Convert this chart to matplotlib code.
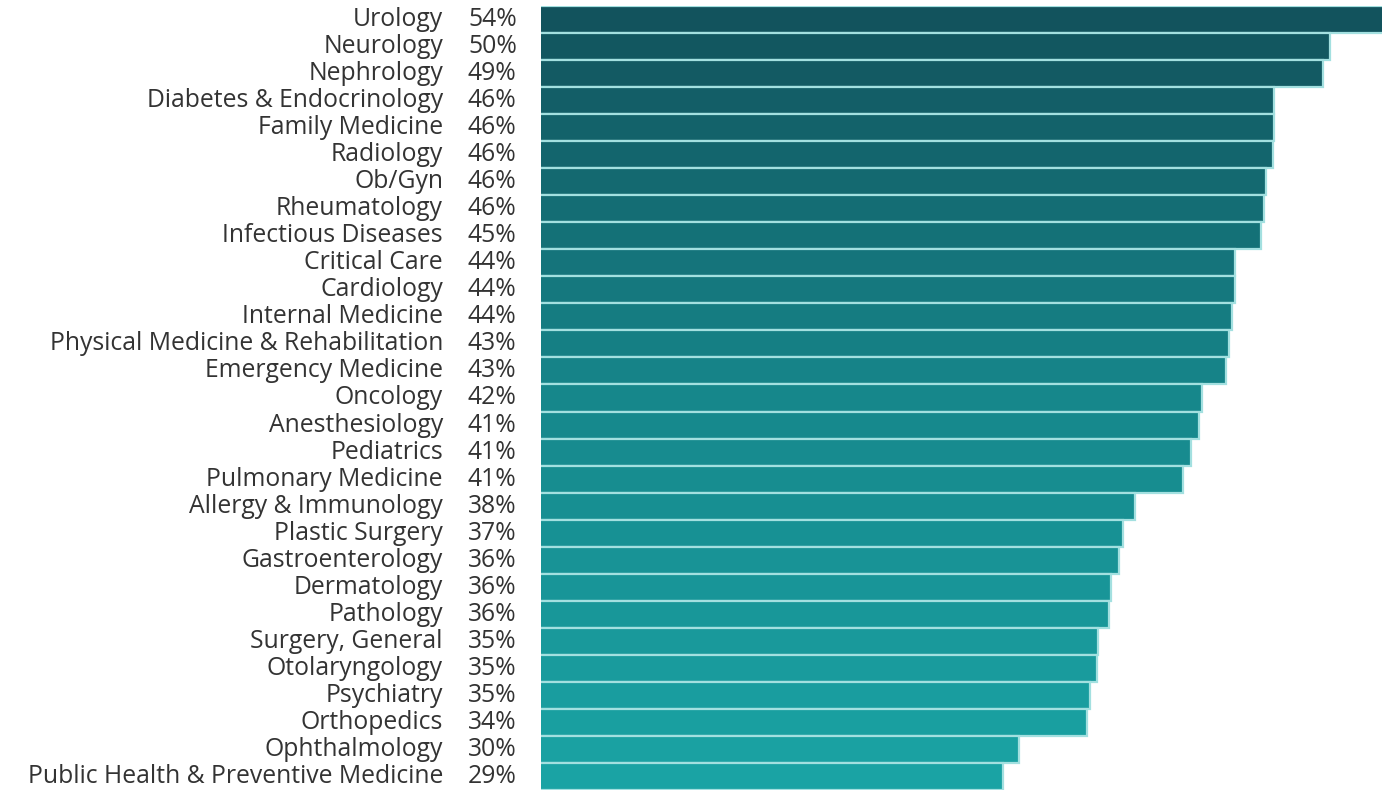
import matplotlib
matplotlib.use("Agg")
import matplotlib.pyplot as plt
import numpy as np
from matplotlib.colors import LinearSegmentedColormap

categories = ["Urology", "Neurology", "Nephrology", "Diabetes & Endocrinology",
              "Family Medicine", "Radiology", "Ob/Gyn", "Rheumatology",
              "Infectious Diseases", "Critical Care", "Cardiology", "Internal Medicine",
              "Physical Medicine & Rehabilitation", "Emergency Medicine", "Oncology",
              "Anesthesiology", "Pediatrics", "Pulmonary Medicine", "Allergy & Immunology",
              "Plastic Surgery", "Gastroenterology", "Dermatology", "Pathology",
              "Surgery, General", "Otolaryngology", "Psychiatry", "Orthopedics",
              "Ophthalmology", "Public Health & Preventive Medicine"]
# displayed (rounded) percentages
labels_pct = [54, 50, 49, 46, 46, 46, 46, 46, 45, 44, 44, 44, 43, 43, 42, 41, 41, 41,
              38, 37, 36, 36, 36, 35, 35, 35, 34, 30, 29]
# bar values
values = [54.0, 49.7, 49.3, 46.2, 46.2, 46.15, 45.7, 45.6, 45.4, 43.8, 43.75, 43.6,
          43.4, 43.2, 41.7, 41.5, 41.0, 40.5, 37.5, 36.8, 36.5, 36.0, 35.9, 35.2,
          35.15, 34.7, 34.5, 30.3, 29.3]

W, H = 1382, 793
fig = plt.figure(figsize=(W / 100, H / 100), dpi=100)
left_px, right_px, top_px, bot_px = 541, 1382, 6, 790
ax = fig.add_axes([left_px / W, 1 - bot_px / H, (right_px - left_px) / W, (bot_px - top_px) / H])

n = len(categories)
cmap = LinearSegmentedColormap.from_list("teal", ["#12535d", "#16878b", "#1aa3a4"])
colors = [cmap(i / (n - 1)) for i in range(n)]
ypos = np.arange(n)
ax.barh(ypos, values, height=1.0, color=colors, edgecolor="#a3e0e0", linewidth=1.6)
ax.set_ylim(n - 0.5, -0.5)
ax.set_xlim(0.4, 52.97)
ax.axis("off")

font = "Open Sans"
fs = 17.8
txtcol = "#333333"
cat_x = (443 - left_px) / (right_px - left_px)
pct_x = (468 - left_px) / (right_px - left_px)
for i, (c, p) in enumerate(zip(categories, labels_pct)):
    ax.text(cat_x, i, c, transform=ax.get_yaxis_transform(), ha="right", va="center",
            fontsize=fs, family=font, color=txtcol, clip_on=False)
    ax.text(pct_x, i, f"{p}%", transform=ax.get_yaxis_transform(), ha="left", va="center",
            fontsize=fs, family=font, color=txtcol, clip_on=False)

fig.savefig("out.png", dpi=100, facecolor="white")
